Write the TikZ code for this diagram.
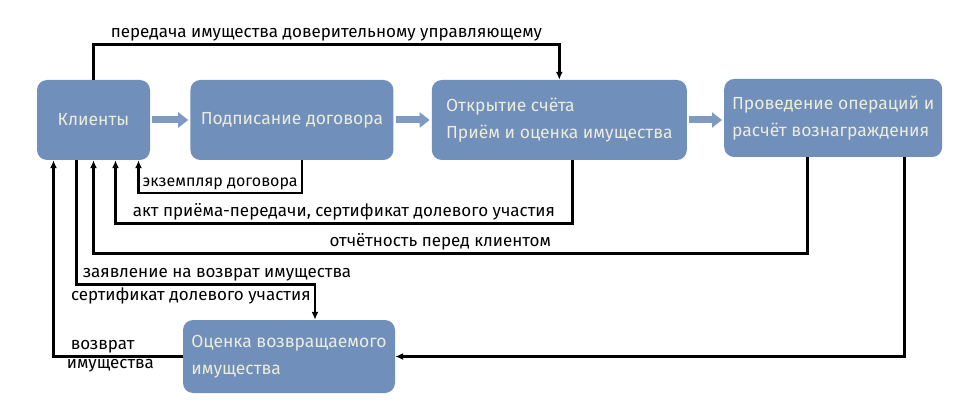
\documentclass[tikz,border=0pt]{standalone}
\usepackage{fontspec}
\setmainfont{Fira Sans}
\usetikzlibrary{positioning,arrows.meta}
\definecolor{boxblue}{RGB}{112,143,186}
\definecolor{boxtext}{RGB}{236,236,218}

\begin{document}
\begin{tikzpicture}[x=1pt,y=-1pt,
        box/.style = {rectangle, rounded corners=10pt, fill=boxblue, text=boxtext,
            minimum height=80pt, inner sep=0pt, font=\fontsize{17.5}{27}\selectfont},
        flow/.style = {draw=boxblue!90!white, line width=7pt,
            -{Triangle[length=10pt,width=15pt]}, shorten <=2pt, shorten >=2pt},
        link/.style = {draw, line width=2.6pt, -{Latex[length=8pt,width=7pt]}},
        lbl/.style = {font=\fontsize{17}{20}\selectfont, inner sep=2pt}]
    \useasboundingbox (0,0) rectangle (975,417);

    % boxes
    \node[box, minimum width=113pt] (klient) at (93.5,120) {Клиенты};
    \node[box, minimum width=203pt, right=40pt of klient] (podpis) {Подписание договора};
    \node[box, minimum width=255pt, align=left, right=38pt of podpis] (otkr) {Открытие счёта\\Приём и оценка имущества};
    \node[box, minimum width=218pt, minimum height=78pt, align=left, right=37pt of otkr, yshift=2pt] (prov) {Проведение операций и\\расчёт вознаграждения};
    \node[box, minimum width=212pt, minimum height=73pt, align=left] (ocen) at (289,356.5) {Оценка возвращаемого\\имущества};

    % main flow
    \draw[flow] (klient) -- (podpis);
    \draw[flow] (podpis) -- (otkr);
    \draw[flow] (otkr.east) -- (otkr.east -| prov.west);

    % top
    \draw[link] (klient.north) -- ++(0,-35) -| node[lbl, pos=0.25, above] {передача имущества доверительному управляющему} (otkr.north);

    % back to clients
    \draw[link] ([xshift=10pt]podpis.south) -- ++(0,33) -| node[lbl, font=\fontsize{16}{20}\selectfont, pos=0, anchor=south east, xshift=-1pt] {экземпляр договора} ([xshift=45pt]klient.south);
    \draw[link] ([xshift=13pt]otkr.south) -- ++(0,63) -| node[lbl, pos=0.25, above] {акт приёма-передачи, сертификат долевого участия} ([xshift=22pt]klient.south);
    \draw[link] ([xshift=-26pt]prov.south) -- ++(0,96) -| node[lbl, pos=0.257, above] {отчётность перед клиентом} (klient.south);

    % return
    \draw[link] ([xshift=-17pt]klient.south) -- ++(0,124) -| node[lbl, pos=0, anchor=south west, xshift=3pt] {заявление на возврат имущества}
        node[lbl, pos=0.5, anchor=north east, xshift=-1pt] {сертификат долевого участия} ([xshift=26pt]ocen.north);
    \draw[link] ([xshift=71pt]prov.south) |- (ocen.east);
    \draw[link] (ocen.west) -| node[lbl, pos=0.31, above] {возврат} node[lbl, pos=0.28, below] {имущества} ([xshift=-40pt]klient.south);
\end{tikzpicture}
\end{document}
